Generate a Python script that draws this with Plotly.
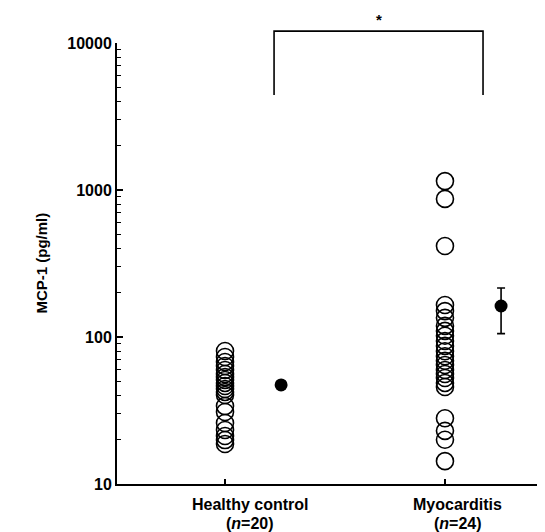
import plotly.graph_objects as go

# ---- data ----
categories = ["Healthy control", "Myocarditis"]
n_labels = ["(<i>n</i>=20)", "(<i>n</i>=24)"]
healthy_values = [80.3, 73.1, 67.6, 63.5, 59.6, 56.0, 53.4, 51.0, 48.7, 46.4,
                  44.3, 42.3, 40.3, 33.9, 30.9, 26.0, 23.3, 21.2, 19.9, 18.7]
myocarditis_values = [1150, 870, 416, 165, 150, 135, 119, 110, 102, 94, 87, 80,
                      74, 69, 64.5, 59.6, 56, 52.6, 48.7, 45.7, 28, 23, 20, 14.3]
mean_values = [47.2, 162.5]
err_plus = [3, 53]
err_minus = [3, 57]
y_tick_vals = [10, 100, 1000, 10000]
y_tick_text = ["10", "100", "1000", "10000"]
minor_vals = [m * 10 ** k for k in (1, 2, 3) for m in range(2, 10)]

# category x positions (numeric axis)
cat_x = [1, 2]
mean_offset = 0.255

FONT = "Liberation Sans, Arial, sans-serif"

fig = go.Figure()
fig.add_trace(go.Scatter(
    x=[cat_x[0]] * len(healthy_values), y=healthy_values, mode="markers",
    marker=dict(symbol="circle-open", size=17, color="black", line=dict(width=1.6)),
    showlegend=False, hoverinfo="y"))
fig.add_trace(go.Scatter(
    x=[cat_x[1]] * len(myocarditis_values), y=myocarditis_values, mode="markers",
    marker=dict(symbol="circle-open", size=17, color="black", line=dict(width=1.6)),
    showlegend=False, hoverinfo="y"))
fig.add_trace(go.Scatter(
    x=[c + mean_offset for c in cat_x], y=mean_values, mode="markers",
    marker=dict(symbol="circle", size=13, color="black"),
    error_y=dict(type="data", symmetric=False, array=err_plus, arrayminus=err_minus,
                 color="black", thickness=1.6, width=4),
    showlegend=False, hoverinfo="y"))

# significance bracket
br_left, br_right = 1.223, 2.173
fig.add_shape(type="path", xref="x", yref="paper",
              path=f"M {br_left},0.882 L {br_left},1.027 L {br_right},1.027 L {br_right},0.882",
              line=dict(color="black", width=1.6))
fig.add_annotation(x=(br_left + br_right) / 2, y=1.03, xref="x", yref="paper",
                   text="<b>*</b>", showarrow=False, yanchor="bottom",
                   font=dict(family=FONT, size=15, color="black"))

# category labels (two lines each)
label_x = [1.115, 2.059]
for lx, cat, nl in zip(label_x, categories, n_labels):
    fig.add_annotation(x=lx, y=-0.0454, xref="x", yref="paper", yanchor="middle",
                       xanchor="center", text=f"<b>{cat}</b>", showarrow=False,
                       font=dict(family=FONT, size=16, color="black"))
    fig.add_annotation(x=lx, y=-0.0907, xref="x", yref="paper", yanchor="middle",
                       xanchor="center", text=f"<b>{nl}</b>", showarrow=False,
                       font=dict(family=FONT, size=16, color="black"))

# y title
fig.add_annotation(x=-0.175, y=0.5, xref="paper", yref="paper",
                   xanchor="center", yanchor="middle",
                   text="<b>MCP-1 (pg/ml)</b>", textangle=-90, showarrow=False,
                   font=dict(family=FONT, size=15, color="black"))

fig.update_layout(
    width=545, height=532,
    margin=dict(l=109, r=2, t=35, b=56),
    paper_bgcolor="white", plot_bgcolor="white",
    font=dict(family=FONT, color="black"),
)
fig.update_xaxes(range=[0.509, 2.482], tickvals=cat_x, ticktext=["", ""],
                 ticks="inside", ticklen=5, tickwidth=1.5, tickcolor="black",
                 showline=True, linecolor="black", linewidth=2,
                 showgrid=False, zeroline=False)
fig.update_yaxes(type="log", range=[1, 4], tickvals=y_tick_vals, ticktext=y_tick_text,
                 ticks="inside", ticklen=6, tickwidth=1.5, tickcolor="black",
                 tickfont=dict(family=FONT, size=16, color="black", weight="bold"),
                 minor=dict(tickmode="array", tickvals=minor_vals, ticks="inside",
                            ticklen=4, tickwidth=1.2, tickcolor="black", showgrid=False),
                 showline=True, linecolor="black", linewidth=2,
                 showgrid=False, zeroline=False)

fig.write_html("out.html")
